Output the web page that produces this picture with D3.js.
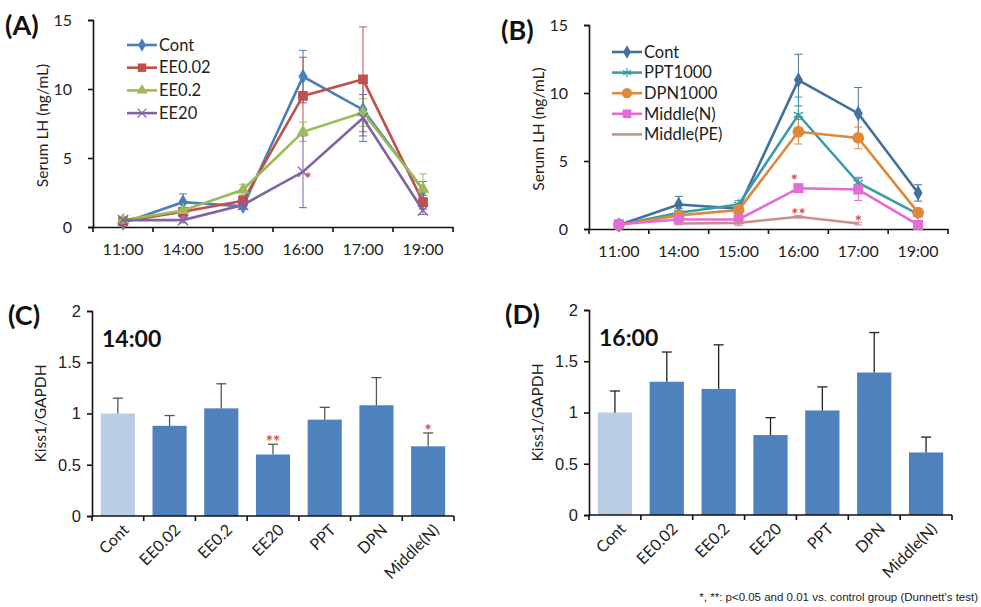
<!DOCTYPE html>
<html>
<head>
<meta charset="utf-8">
<script src="https://cdn.jsdelivr.net/npm/d3@7"></script>
<style>
  html, body { margin: 0; padding: 0; background: #fff; }
  svg { display: block; font-family: Lato, "Open Sans", sans-serif; }
</style>
</head>
<body>
<div id="chart"></div>
<script>
// LH time course (A, B) and Kiss1 expression (C, D)

const timeCats = ["11:00", "14:00", "15:00", "16:00", "17:00", "19:00"];

// Panel A - serum LH (ng/mL)
const aCont   = [0.3, 1.8, 1.5, 10.9, 8.5, 2.7];
const aContE  = [0.2, 0.6, 0.2, 1.9, 1.9, 0.6];
const aEE002  = [0.4, 1.1, 1.9, 9.5, 10.7, 1.8];
const aEE002E = [0.2, 0.3, 0.4, 2.8, 3.8, 0.5];
const aEE02   = [0.5, 1.2, 2.7, 6.9, 8.3, 2.75];
const aEE02E  = [0.2, 0.2, 0.4, 0.7, 1.0, 1.1];
const aEE20   = [0.5, 0.5, 1.6, 4.0, 7.9, 1.2];
const aEE20E  = [0.2, 0.2, 0.3, 2.6, 1.7, 0.3];

// Panel B - serum LH (ng/mL)
const bCont   = [0.3, 1.8, 1.5, 10.95, 8.5, 2.65];
const bContE  = [0.2, 0.6, 0.2, 1.9, 1.9, 0.6];
const bPPT    = [0.3, 1.2, 1.8, 8.4, 3.4, 1.1];
const bPPTE   = [0.1, 0.3, 0.3, 1.3, 0.4, 0.2];
const bDPN    = [0.3, 1.0, 1.4, 7.15, 6.7, 1.2];
const bDPNE   = [0.1, 0.2, 0.2, 0.9, 0.8, 0.2];
const bMidN   = [0.35, 0.7, 0.7, 3.0, 2.9, 0.3];
const bMidNE  = [0.1, 0.3, 0.3, 0.3, 0.8, 0.1];
const bMidPE  = [null, 0.4, 0.45, 0.9, 0.4, null];
const bMidPEE = [null, 0.1, 0.2, 0.1, 0.1, null];

// Panels C, D - Kiss1/GAPDH
const barCats = ["Cont", "EE0.02", "EE0.2", "EE20", "PPT", "DPN", "Middle(N)"];
const cMean = [1.0, 0.88, 1.05, 0.60, 0.94, 1.08, 0.68];
const cErr  = [0.15, 0.10, 0.24, 0.10, 0.12, 0.27, 0.13];
const dMean = [1.0, 1.30, 1.23, 0.78, 1.02, 1.39, 0.61];
const dErr  = [0.21, 0.29, 0.43, 0.17, 0.23, 0.39, 0.15];

const svg = d3.select("#chart").append("svg")
    .attr("width", 981)
    .attr("height", 607);

svg.append("rect").attr("width", 981).attr("height", 607).attr("fill", "#fff");

const RED = "#dc4a44";

function star(g, x, y, txt) {
    g.append("text").attr("x", x).attr("y", y)
        .attr("text-anchor", "middle").attr("font-size", 17).attr("font-weight", "bold")
        .attr("fill", RED).text(txt);
}

// ---------- line panels ----------
function linePanel(opt) {
    const g = svg.append("g");
    const x = d3.scaleBand().domain(timeCats).range([opt.x0, opt.x1]).padding(0);
    const y = d3.scaleLinear().domain([0, 15]).range([opt.y0, opt.yTop]);

    // y axis
    const yAx = g.append("g").attr("transform", `translate(${opt.x0},0)`)
        .call(d3.axisLeft(y).tickValues([0, 5, 10, 15]).tickSize(5).tickPadding(16));
    // x axis
    const xAx = g.append("g").attr("transform", `translate(0,${opt.y0})`)
        .call(d3.axisBottom(x).tickSize(0).tickPadding(17));
    [yAx, xAx].forEach(a => {
        a.select(".domain").attr("stroke", "#111").attr("stroke-width", 1.6);
        a.selectAll("text").attr("font-size", 16).attr("fill", "#222").attr("font-family", "Lato, sans-serif");
        a.selectAll(".tick line").attr("stroke", "#111").attr("stroke-width", 1.6);
    });
    // band boundary ticks on x
    g.selectAll(".xb").data(d3.range(timeCats.length + 1)).enter().append("line")
        .attr("x1", i => opt.x0 + i * x.step()).attr("x2", i => opt.x0 + i * x.step())
        .attr("y1", opt.y0).attr("y2", opt.y0 + 5)
        .attr("stroke", "#111").attr("stroke-width", 1.6);

    // axis label
    g.append("text")
        .attr("transform", `translate(${opt.x0 - 45},${(opt.y0 + opt.yTop) / 2 + 2}) rotate(-90)`)
        .attr("text-anchor", "middle").attr("font-size", 15.5).attr("fill", "#222")
        .text("Serum LH (ng/mL)");

    // panel letter
    g.append("text").attr("x", opt.x0 - 88).attr("y", opt.yTop + 15)
        .attr("font-size", 27).attr("font-weight", "bold").attr("fill", "#111")
        .text(opt.letter);

    const cx = (d, i) => x(timeCats[i]) + x.bandwidth() / 2;

    // error bars first
    opt.series.forEach(s => {
        if (!s.err) return;
        const eg = g.append("g");
        s.values.forEach((v, i) => {
            if (v == null || s.err[i] == null) return;
            const px = cx(v, i);
            const lo = y(Math.max(0, v - s.err[i])), hi = y(v + s.err[i]);
            eg.append("line").attr("x1", px).attr("x2", px).attr("y1", lo).attr("y2", hi)
                .attr("stroke", s.color).attr("stroke-width", 1);
            [lo, hi].forEach(yy => eg.append("line")
                .attr("x1", px - 4).attr("x2", px + 4).attr("y1", yy).attr("y2", yy)
                .attr("stroke", s.color).attr("stroke-width", 1));
        });
    });

    // lines + markers
    opt.series.forEach(s => {
        const line = d3.line()
            .defined(d => d != null)
            .x((d, i) => cx(d, i))
            .y(d => y(d));
        g.append("path").datum(s.values)
            .attr("d", line).attr("fill", "none")
            .attr("stroke", s.color).attr("stroke-width", 2.6);
        if (s.symbol) {
            s.values.forEach((v, i) => {
                if (v == null) return;
                g.append("path")
                    .attr("transform", `translate(${cx(v, i)},${y(v)})`)
                    .attr("d", d3.symbol().type(s.symbol).size(s.size)())
                    .attr("fill", s.stroke ? "none" : s.color)
                    .attr("stroke", s.color).attr("stroke-width", s.stroke ? 1.4 : 0);
            });
        }
    });

    // legend
    const lg = g.append("g");
    opt.series.forEach((s, i) => {
        const ly = opt.legY + i * opt.legStep;
        lg.append("line").attr("x1", opt.legX).attr("x2", opt.legX + 30)
            .attr("y1", ly).attr("y2", ly).attr("stroke", s.color).attr("stroke-width", 2.6);
        if (s.symbol) {
            lg.append("path").attr("transform", `translate(${opt.legX + 15},${ly})`)
                .attr("d", d3.symbol().type(s.symbol).size(s.size * 0.75)())
                .attr("fill", s.stroke ? "none" : s.color)
                .attr("stroke", s.color).attr("stroke-width", s.stroke ? 1.2 : 0);
        }
        lg.append("text").attr("x", opt.legX + 32).attr("y", ly).attr("dy", "0.35em")
            .attr("font-size", 16.5).attr("fill", "#222").text(s.name);
    });

    return { g, x, y, cx };
}

const pA = linePanel({
    letter: "(A)", x0: 93, x1: 453, y0: 227, yTop: 20,
    legX: 127, legY: 45, legStep: 22.7,
    series: [
        { name: "Cont",   values: aCont,  err: aContE,  color: "#4a7ebb", symbol: d3.symbolDiamond, size: 70 },
        { name: "EE0.02", values: aEE002, err: aEE002E, color: "#c0504d", symbol: d3.symbolSquare,  size: 95 },
        { name: "EE0.2",  values: aEE02,  err: aEE02E,  color: "#9bbb59", symbol: d3.symbolTriangle, size: 70 },
        { name: "EE20",   values: aEE20,  err: aEE20E,  color: "#8064a2", symbol: d3.symbolTimes, size: 70, stroke: true }
    ]
});
star(pA.g, pA.cx(0, 3) + 5, pA.y(aEE20[3]) + 13, "*");

const pB = linePanel({
    letter: "(B)", x0: 589, x1: 948, y0: 229, yTop: 25,
    legX: 612, legY: 52, legStep: 20.6,
    series: [
        { name: "Cont",       values: bCont,  err: bContE,  color: "#41719c", symbol: d3.symbolDiamond, size: 70 },
        { name: "PPT1000",    values: bPPT,   err: bPPTE,   color: "#3a9ca6", symbol: d3.symbolAsterisk, size: 80, stroke: true },
        { name: "DPN1000",    values: bDPN,   err: bDPNE,   color: "#e0883a", symbol: d3.symbolCircle, size: 110 },
        { name: "Middle(N)",  values: bMidN,  err: bMidNE,  color: "#e56bd6", symbol: d3.symbolSquare, size: 100 },
        { name: "Middle(PE)", values: bMidPE, err: bMidPEE, color: "#c8918c" }
    ]
});
star(pB.g, pB.cx(0, 3) - 4, pB.y(bMidN[3]) - 1, "*");
star(pB.g, pB.cx(0, 3), pB.y(bMidPE[3]) + 4, "**");
star(pB.g, pB.cx(0, 4), pB.y(bMidPE[4]) + 4, "*");

// ---------- bar panels ----------
function barPanel(opt) {
    const g = svg.append("g");
    const x = d3.scaleBand().domain(barCats).range([opt.x0, opt.x1]).padding(0);
    const y = d3.scaleLinear().domain([0, 2]).range([opt.y0, opt.yTop]);
    const bw = x.bandwidth() * 0.66;
    const cx = c => x(c) + x.bandwidth() / 2;

    const yAx = g.append("g").attr("transform", `translate(${opt.x0},0)`)
        .call(d3.axisLeft(y).tickValues([0, 0.5, 1, 1.5, 2]).tickFormat(d3.format("~g")).tickSize(5).tickPadding(6));
    yAx.select(".domain").attr("stroke", "#111").attr("stroke-width", 1.6);
    yAx.selectAll(".tick line").attr("stroke", "#111").attr("stroke-width", 1.6);
    yAx.selectAll("text").attr("font-size", 16.5).attr("fill", "#222");

    // bars
    g.selectAll(".bar").data(barCats).enter().append("rect")
        .attr("x", c => cx(c) - bw / 2)
        .attr("width", bw)
        .attr("y", (c, i) => y(opt.mean[i]))
        .attr("height", (c, i) => opt.y0 - y(opt.mean[i]))
        .attr("fill", (c, i) => i === 0 ? "#b9cde5" : "#4f81bd");

    // upper error bars
    barCats.forEach((c, i) => {
        const top = y(opt.mean[i] + opt.err[i]);
        g.append("line").attr("x1", cx(c)).attr("x2", cx(c))
            .attr("y1", y(opt.mean[i])).attr("y2", top)
            .attr("stroke", opt.errColor).attr("stroke-width", 1.3);
        g.append("line").attr("x1", cx(c) - 5).attr("x2", cx(c) + 5)
            .attr("y1", top).attr("y2", top)
            .attr("stroke", opt.errColor).attr("stroke-width", 1.3);
    });

    // x axis line + boundary ticks
    g.append("line").attr("x1", opt.x0).attr("x2", opt.x1).attr("y1", opt.y0).attr("y2", opt.y0)
        .attr("stroke", "#111").attr("stroke-width", 1.6);
    g.selectAll(".xb").data(d3.range(barCats.length + 1)).enter().append("line")
        .attr("x1", i => opt.x0 + i * x.step()).attr("x2", i => opt.x0 + i * x.step())
        .attr("y1", opt.y0).attr("y2", opt.y0 + 5)
        .attr("stroke", "#111").attr("stroke-width", 1.6);

    // rotated category labels
    g.selectAll(".cat").data(barCats).enter().append("text")
        .attr("transform", c => `translate(${cx(c) + 8},${opt.y0 + 11}) rotate(-45)`)
        .attr("text-anchor", "end").attr("dy", "0.35em")
        .attr("font-size", 16).attr("fill", "#222")
        .text(c => c);

    // axis label
    g.append("text")
        .attr("transform", `translate(${opt.x0 - 46},${(opt.y0 + opt.yTop) / 2}) rotate(-90)`)
        .attr("text-anchor", "middle").attr("font-size", 15.5).attr("fill", "#222")
        .text("Kiss1/GAPDH");

    // panel letter and time
    g.append("text").attr("x", opt.x0 - 84).attr("y", opt.yTop + 14)
        .attr("font-size", 27).attr("font-weight", "bold").attr("fill", "#111")
        .text(opt.letter);
    g.append("text").attr("x", opt.x0 + 10).attr("y", opt.yTop + 36)
        .attr("font-size", 23).attr("font-weight", "bold").attr("fill", "#111")
        .text(opt.time);

    return { g, x, y, cx };
}

const pC = barPanel({
    letter: "(C)", time: "14:00", x0: 92, x1: 454, y0: 516, yTop: 311,
    mean: cMean, err: cErr, errColor: "#555"
});
star(pC.g, pC.cx("EE20"), pC.y(cMean[3] + cErr[3]) + 4, "**");
star(pC.g, pC.cx("Middle(N)"), pC.y(cMean[6] + cErr[6]) + 4, "*");

barPanel({
    letter: "(D)", time: "16:00", x0: 589, x1: 952, y0: 515, yTop: 310,
    mean: dMean, err: dErr, errColor: "#222"
});

svg.append("text").attr("x", 978).attr("y", 601)
    .attr("text-anchor", "end").attr("font-size", 11.5)
    .attr("font-family", "'Liberation Sans', Arial, sans-serif").attr("fill", "#222")
    .text("*, **: p<0.05 and 0.01 vs. control group (Dunnett's test)");
</script>
</body>
</html>
